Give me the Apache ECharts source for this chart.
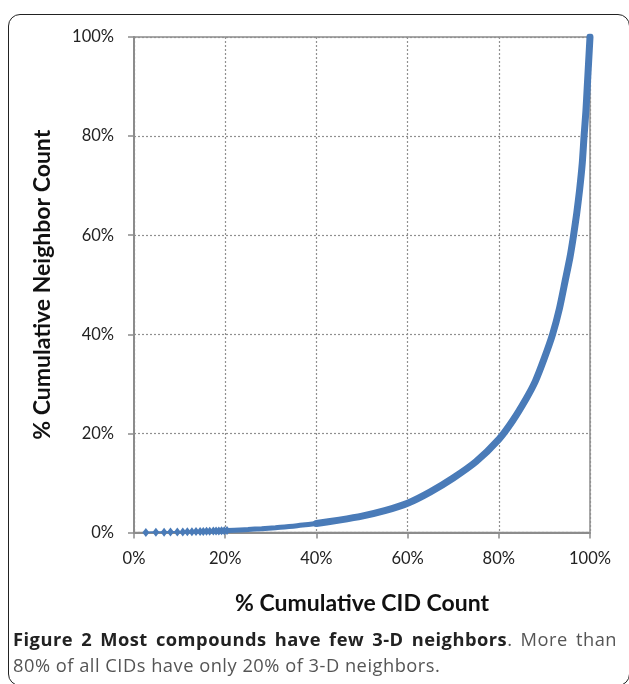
<!DOCTYPE html>
<html>
<head>
<meta charset="utf-8">
<script src="https://cdn.jsdelivr.net/npm/echarts@6/dist/echarts.min.js"></script>
<style>
html,body{margin:0;padding:0;width:629px;height:684px;overflow:hidden;background:#fff;}
#box{position:absolute;left:8px;top:14px;width:622px;height:672px;border:1.5px solid #222;border-radius:12px;box-sizing:border-box;}
#chart{position:absolute;left:0;top:0;width:629px;height:684px;}
#cap{position:absolute;left:13px;top:626px;width:604px;font-family:"Open Sans",sans-serif;font-size:18.3px;letter-spacing:0.5px;line-height:26px;color:#555;}
#cap .l1{text-align:justify;text-align-last:justify;white-space:nowrap;}
#cap b{color:#222;}
</style>
</head>
<body>
<div id="box"></div>
<div id="chart"></div>
<div id="cap"><div class="l1"><b>Figure 2 Most compounds have few 3-D neighbors</b>. More than</div><div>80% of all CIDs have only 20% of 3-D neighbors.</div></div>
<script>
// sparse low-end points (fraction of CIDs, fraction of neighbors)
var lowX = [0.026,0.048,0.066,0.080,0.095,0.107,0.117,0.127,0.136,0.145,0.152,0.159,0.166,0.174,0.180,0.186,0.192,0.198,0.204];
var lowY = [0.0002,0.0004,0.0006,0.0008,0.0010,0.0012,0.0014,0.0016,0.0018,0.0020,0.0022,0.0024,0.0026,0.0028,0.0030,0.0032,0.0034,0.0036,0.0038];
// mid section
var midX = [0.19,0.22,0.25,0.28,0.31,0.34,0.37,0.40,0.43];
var midY = [0.0035,0.0045,0.006,0.0078,0.0098,0.012,0.015,0.018,0.022];
// main thick curve
var mainX = [0.40,0.45,0.50,0.55,0.60,0.65,0.70,0.75,0.80,0.83,0.86,0.88,0.90,0.918,0.933,0.946,0.956,0.964,0.971,0.977,0.983,0.987,0.991,0.994,0.997,1.0];
var mainY = [0.018,0.025,0.033,0.044,0.059,0.082,0.110,0.143,0.188,0.225,0.270,0.305,0.352,0.400,0.452,0.510,0.555,0.600,0.645,0.690,0.745,0.800,0.850,0.900,0.950,1.0];
var ticks = [0,0.2,0.4,0.6,0.8,1.0];

function pairs(xs, ys){ return xs.map(function(x,i){return [x, ys[i]];}); }
var blue = '#4a7bb8';
var chart = echarts.init(document.getElementById('chart'));
var pct = function(v){ return Math.round(v*100) + '%'; };
chart.setOption({
  animation:false,
  grid:{left:134,right:39,top:37,bottom:151.5,show:true,borderColor:'#8c8c8c',borderWidth:1.5},
  xAxis:{type:'value',min:0,max:1,interval:0.2,
    axisLine:{show:true,lineStyle:{color:'#8c8c8c',width:2}},
    axisTick:{show:true,inside:false,length:6,lineStyle:{color:'#8c8c8c',width:1.5}},
    axisLabel:{formatter:pct,color:'#222',fontFamily:'Lato',fontSize:16.5,margin:18},
    splitLine:{show:true,lineStyle:{color:'#909090',type:[2,2],width:1.2}},
    name:'% Cumulative CID Count',nameLocation:'middle',nameGap:60,
    nameTextStyle:{fontFamily:'Lato',fontWeight:'bold',fontSize:23,color:'#111'}},
  yAxis:{type:'value',min:0,max:1,interval:0.2,
    axisLine:{show:true,lineStyle:{color:'#8c8c8c',width:2}},
    axisTick:{show:true,inside:false,length:6,lineStyle:{color:'#8c8c8c',width:1.5}},
    axisLabel:{formatter:pct,color:'#222',fontFamily:'Lato',fontSize:16.5,margin:20},
    splitLine:{show:true,lineStyle:{color:'#909090',type:[2,2],width:1.2}},
    name:'% Cumulative Neighbor Count',nameLocation:'middle',nameGap:80,
    nameTextStyle:{fontFamily:'Lato',fontWeight:'bold',fontSize:23,color:'#111'}},
  series:[
    {type:'line',data:pairs(lowX,lowY),symbol:'diamond',symbolSize:[7,9],showSymbol:true,
     lineStyle:{color:blue,width:2},itemStyle:{color:blue,borderWidth:0}},
    {type:'line',data:pairs(midX,midY),symbol:'none',smooth:true,
     lineStyle:{color:blue,width:5,cap:'round'}},
    {type:'line',data:pairs(mainX,mainY),symbol:'none',smooth:0.2,
     lineStyle:{color:blue,width:7,cap:'round',join:'round'}}
  ]
});
</script>
</body>
</html>
